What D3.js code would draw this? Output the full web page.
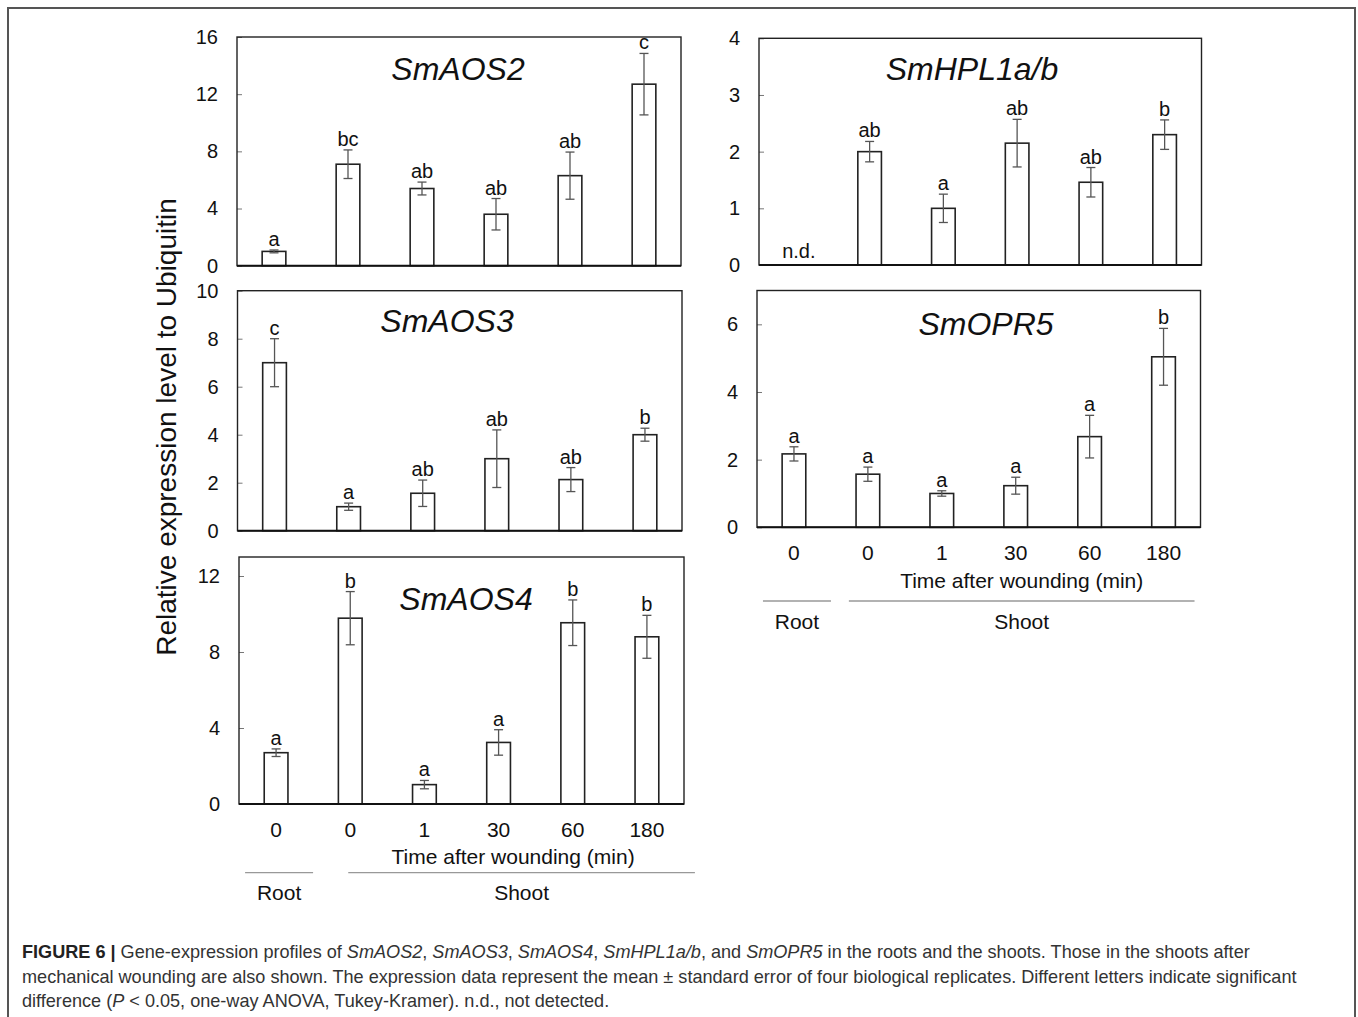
<!DOCTYPE html>
<html>
<head>
<meta charset="utf-8">
<script src="https://cdn.jsdelivr.net/npm/d3@7"></script>
<style>
  body { margin: 0; background: #fff; }
  svg text { font-family: "Liberation Sans", Arial, sans-serif; }
</style>
</head>
<body>
<div id="chart"></div>
<script>
// time after wounding (min), first one is the root sample
const timeLabels = ["0", "0", "1", "30", "60", "180"];

// SmAOS2
const aos2Mean = [1.0, 7.1, 5.4, 3.6, 6.3, 12.7];
const aos2Se = [0.1, 1.0, 0.45, 1.1, 1.65, 2.15];
const aos2Letters = ["a", "bc", "ab", "ab", "ab", "c"];
const aos2Ticks = [0, 4, 8, 12, 16];

// SmHPL1a/b (root not detected)
const hplMean = [null, 2.0, 1.0, 2.15, 1.46, 2.3];
const hplSe = [null, 0.18, 0.25, 0.42, 0.26, 0.26];
const hplLetters = ["n.d.", "ab", "a", "ab", "ab", "b"];
const hplTicks = [0, 1, 2, 3, 4];

// SmAOS3
const aos3Mean = [7.0, 1.0, 1.56, 3.0, 2.13, 4.0];
const aos3Se = [1.0, 0.15, 0.55, 1.2, 0.5, 0.27];
const aos3Letters = ["c", "a", "ab", "ab", "ab", "b"];
const aos3Ticks = [0, 2, 4, 6, 8, 10];

// SmOPR5
const opr5Mean = [2.17, 1.57, 1.0, 1.23, 2.68, 5.04];
const opr5Se = [0.21, 0.21, 0.08, 0.25, 0.63, 0.84];
const opr5Letters = ["a", "a", "a", "a", "a", "b"];
const opr5Ticks = [0, 2, 4, 6];

// SmAOS4
const aos4Mean = [2.7, 9.78, 1.02, 3.24, 9.54, 8.8];
const aos4Se = [0.2, 1.4, 0.22, 0.67, 1.2, 1.13];
const aos4Letters = ["a", "b", "a", "a", "b", "b"];
const aos4Ticks = [0, 4, 8, 12];

const W = 1358, H = 1017;

const svg = d3.select("#chart").append("svg")
  .attr("width", W)
  .attr("height", H);

// outer figure frame
svg.append("rect")
  .attr("x", 8).attr("y", 8)
  .attr("width", 1347).attr("height", 1040)
  .attr("fill", "none")
  .attr("stroke", "#555")
  .attr("stroke-width", 2);

const panels = [
  { gene: "SmAOS2", mean: aos2Mean, se: aos2Se, letters: aos2Letters, ticks: aos2Ticks, yMax: 16,
    x0: 237, x1: 681, top: 37, bottom: 265.7, titleX: 458, titleY: 80, xAxis: false },
  { gene: "SmHPL1a/b", mean: hplMean, se: hplSe, letters: hplLetters, ticks: hplTicks, yMax: 4,
    x0: 759, x1: 1201.5, top: 38.3, bottom: 265, titleX: 972, titleY: 80, xAxis: false },
  { gene: "SmAOS3", mean: aos3Mean, se: aos3Se, letters: aos3Letters, ticks: aos3Ticks, yMax: 10,
    x0: 237.5, x1: 682, top: 290.7, bottom: 530.7, titleX: 447, titleY: 332, xAxis: false },
  { gene: "SmOPR5", mean: opr5Mean, se: opr5Se, letters: opr5Letters, ticks: opr5Ticks, yMax: 7,
    x0: 757, x1: 1200.5, top: 290.5, bottom: 527.3, titleX: 986, titleY: 335, xAxis: true,
    timeDy: 61, lineDy: 73.7, groupDy: 102, shootStart: -19, shootEnd: 31 },
  { gene: "SmAOS4", mean: aos4Mean, se: aos4Se, letters: aos4Letters, ticks: aos4Ticks, yMax: 13,
    x0: 239, x1: 684, top: 557, bottom: 804, titleX: 466, titleY: 610, xAxis: true,
    timeDy: 60, lineDy: 68.7, groupDy: 96, shootStart: -2, shootEnd: 48 }
];

panels.forEach(function (p) {
  const g = svg.append("g");

  const x = d3.scaleBand()
    .domain(d3.range(timeLabels.length))
    .range([p.x0, p.x1])
    .paddingInner(0.68)
    .paddingOuter(0.34);

  const y = d3.scaleLinear()
    .domain([0, p.yMax])
    .range([p.bottom, p.top]);

  // y axis, ticks pointing into the plot
  const yAxis = g.append("g")
    .attr("transform", "translate(" + p.x0 + ",0)")
    .call(d3.axisLeft(y).tickValues(p.ticks).tickSize(-5).tickPadding(19).tickFormat(d3.format("d")));
  yAxis.select(".domain").remove();
  yAxis.selectAll(".tick line").attr("stroke", "#777");
  yAxis.selectAll("text").attr("font-size", 20).attr("fill", "#111");

  // plot box
  g.append("rect")
    .attr("x", p.x0).attr("y", p.top)
    .attr("width", p.x1 - p.x0).attr("height", p.bottom - p.top)
    .attr("fill", "none")
    .attr("stroke", "#222")
    .attr("stroke-width", 1.4);

  // bars
  const idx = d3.range(p.mean.length).filter(function (i) { return p.mean[i] != null; });

  g.selectAll(".bar")
    .data(idx)
    .enter()
    .append("rect")
    .attr("x", function (i) { return x(i); })
    .attr("y", function (i) { return y(p.mean[i]); })
    .attr("width", x.bandwidth())
    .attr("height", function (i) { return y(0) - y(p.mean[i]); })
    .attr("fill", "#fff")
    .attr("stroke", "#222")
    .attr("stroke-width", 1.6);

  // error bars
  const cx = function (i) { return x(i) + x.bandwidth() / 2; };
  const err = g.append("g").attr("stroke", "#555").attr("stroke-width", 1.3);
  idx.forEach(function (i) {
    const hi = y(p.mean[i] + p.se[i]), lo = y(p.mean[i] - p.se[i]);
    err.append("line").attr("x1", cx(i)).attr("x2", cx(i)).attr("y1", hi).attr("y2", lo);
    err.append("line").attr("x1", cx(i) - 4.5).attr("x2", cx(i) + 4.5).attr("y1", hi).attr("y2", hi);
    err.append("line").attr("x1", cx(i) - 4.5).attr("x2", cx(i) + 4.5).attr("y1", lo).attr("y2", lo);
  });

  // base line of the plot
  g.append("line")
    .attr("x1", p.x0).attr("x2", p.x1)
    .attr("y1", y(0)).attr("y2", y(0))
    .attr("stroke", "#111")
    .attr("stroke-width", 2);

  // significance letters
  g.selectAll(".letter")
    .data(d3.range(p.letters.length))
    .enter()
    .append("text")
    .attr("x", function (i) { return p.mean[i] == null ? cx(i) + 3 : cx(i); })
    .attr("y", function (i) {
      return p.mean[i] == null ? y(0) - 7 : y(p.mean[i] + p.se[i]) - 4;
    })
    .attr("text-anchor", "middle")
    .attr("font-size", 20)
    .attr("fill", "#111")
    .text(function (i) { return p.letters[i]; });

  // gene name
  g.append("text")
    .attr("x", p.titleX).attr("y", p.titleY)
    .attr("text-anchor", "middle")
    .attr("font-size", 32)
    .attr("font-style", "italic")
    .attr("fill", "#111")
    .text(p.gene);

  if (p.xAxis) {
    const xAxis = g.append("g")
      .attr("transform", "translate(0," + p.bottom + ")")
      .call(d3.axisBottom(x).tickSize(0).tickPadding(18).tickFormat(function (i) { return timeLabels[i]; }));
    xAxis.select(".domain").remove();
    xAxis.selectAll("text").attr("font-size", 21).attr("fill", "#111");

    const last = timeLabels.length - 1;
    const rootL = cx(0) - 31, rootR = cx(0) + 37;
    const shootL = cx(1) + p.shootStart, shootR = cx(last) + p.shootEnd;

    g.append("text")
      .attr("x", (shootL + cx(last) + 31) / 2)
      .attr("y", p.bottom + p.timeDy)
      .attr("text-anchor", "middle")
      .attr("font-size", 21)
      .attr("fill", "#111")
      .text("Time after wounding (min)");

    [[rootL, rootR, "Root"], [shootL, shootR, "Shoot"]].forEach(function (s) {
      g.append("line")
        .attr("x1", s[0]).attr("x2", s[1])
        .attr("y1", p.bottom + p.lineDy).attr("y2", p.bottom + p.lineDy)
        .attr("stroke", "#999")
        .attr("stroke-width", 1.3);
      g.append("text")
        .attr("x", (s[0] + s[1]) / 2)
        .attr("y", p.bottom + p.groupDy)
        .attr("text-anchor", "middle")
        .attr("font-size", 21)
        .attr("fill", "#111")
        .text(s[2]);
    });
  }
});

// shared y axis title
svg.append("text")
  .attr("transform", "translate(176,427) rotate(-90)")
  .attr("text-anchor", "middle")
  .attr("font-size", 28)
  .attr("fill", "#111")
  .text("Relative expression level to Ubiquitin");

// caption
const caption = svg.append("g")
  .attr("font-size", 18.1)
  .attr("fill", "#333");

const capLines = [
  [["FIGURE 6 | ", "b"], ["Gene-expression profiles of ", ""], ["SmAOS2", "i"], [", ", ""], ["SmAOS3", "i"], [", ", ""],
   ["SmAOS4", "i"], [", ", ""], ["SmHPL1a/b", "i"], [", and ", ""], ["SmOPR5", "i"],
   [" in the roots and the shoots. Those in the shoots after", ""]],
  [["mechanical wounding are also shown. The expression data represent the mean \u00b1 standard error of four biological replicates. Different letters indicate significant", ""]],
  [["difference (", ""], ["P", "i"], [" < 0.05, one-way ANOVA, Tukey-Kramer). n.d., not detected.", ""]]
];

capLines.forEach(function (line, li) {
  const t = caption.append("text")
    .attr("x", 22)
    .attr("y", 958 + li * 24.5);
  line.forEach(function (part) {
    const s = t.append("tspan").text(part[0]);
    if (part[1] === "b") s.attr("font-weight", "bold").attr("fill", "#222");
    if (part[1] === "i") s.attr("font-style", "italic");
  });
});
</script>
</body>
</html>
